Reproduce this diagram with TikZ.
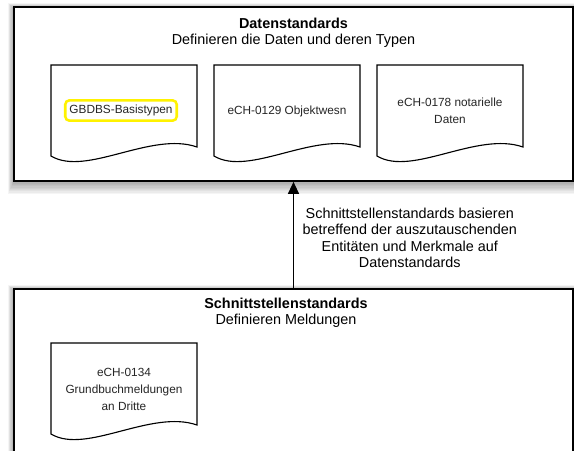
\documentclass[tikz,border=0pt]{standalone}
\usepackage{fontspec}
\setmainfont{Liberation Sans}
\usepackage{tikz}
\usetikzlibrary{arrows.meta, positioning, fit}

\begin{document}
\begin{tikzpicture}[x=0.025cm, y=-0.025cm,
  stdbox/.style={draw, line width=1.2pt, fill=white, inner sep=0pt},
  titel/.style={align=center, font=\fontsize{10.24}{11.5}\selectfont},
  doctext/.style={align=center, font=\fontsize{8.4}{12}\selectfont, text=black!85},
  docpage/.pic={\draw[line width=0.8pt, fill=white] (0,0) -- (146,0) -- (146,82)
        .. controls (100,66) and (35,112) .. (0,91) -- cycle;}]
  \clip (0,0) rectangle (574,450);

  % weiche Schatten
  \foreach \i in {1,...,10} {
    \fill[black, opacity=0.04] (14-\i*0.6, 9-\i*0.6) rectangle (573+\i*0.6, 181+\i*1.3);
    \fill[black, opacity=0.04] (14-\i*0.6, 291-\i*0.6) rectangle (573+\i*0.6, 470);
  }

  % Datenstandards
  \node[stdbox, fit={(14,7) (573,181)}] (daten) {};
  \node[titel] (datentitel) at (293.5,32.5)
        {\textbf{Datenstandards}\\Definieren die Daten und deren Typen};

  \pic (doca) at (51,65) {docpage};
  \pic (docb) at (214,65) {docpage};
  \pic (docc) at (377,65) {docpage};
  \node[doctext, draw=yellow, line width=1.8pt, rounded corners=3pt,
        inner xsep=3pt, minimum height=14.5pt] (basis) at (121,110.5) {GBDBS-Basistypen};
  \node[doctext] (objekt) at (287,111) {eCH-0129 Objektwesn};
  \node[doctext] (notar) at (450,111) {eCH-0178 notarielle\\Daten};

  % Schnittstellenstandards
  \node[stdbox, fit={(14,289) (573,470)}] (schnitt) {};
  \node[titel] (schnitttitel) at (286,312.5)
        {\textbf{Schnittstellenstandards}\\Definieren Meldungen};

  \pic (docd) at (51,343) {docpage};
  \node[doctext] (meldung) at (124,389.5) {eCH-0134\\Grundbuchmeldungen\\an Dritte};

  % Abhaengigkeit
  \draw[-{Triangle[length=8.5pt, width=7.8pt]}, line width=0.9pt]
        (schnitt.north) -- (daten.south)
        node[midway, right, xshift=2.7pt, yshift=-2pt, titel] (basiert)
        {Schnittstellenstandards basieren\\betreffend der auszutauschenden\\Entit\"aten und Merkmale auf\\Datenstandards};
\end{tikzpicture}
\end{document}
